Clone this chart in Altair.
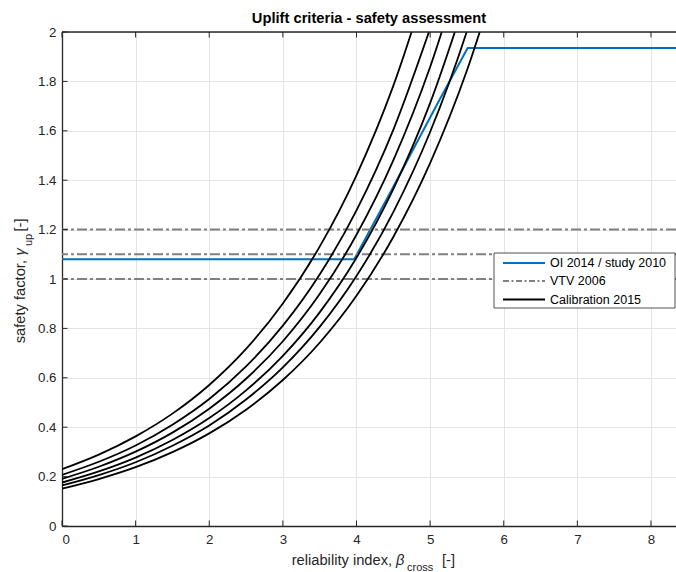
import altair as alt
import pandas as pd

# ---------------- data ----------------
beta_pts = [0, 0.5, 1, 1.5, 2, 2.5, 3, 3.5, 4, 4.5, 5, 5.5, 6]
cal_1 = [0.230, 0.289, 0.363, 0.455, 0.571, 0.717, 0.901, 1.131, 1.420, 1.782, 2.237]
cal_2 = [0.207, 0.260, 0.326, 0.410, 0.514, 0.646, 0.811, 1.018, 1.278, 1.604, 2.014]
cal_3 = [0.191, 0.240, 0.301, 0.378, 0.475, 0.596, 0.748, 0.939, 1.179, 1.480, 1.858, 2.333]
cal_4 = [0.176, 0.221, 0.277, 0.348, 0.437, 0.549, 0.689, 0.865, 1.086, 1.364, 1.712, 2.149]
cal_5 = [0.164, 0.206, 0.258, 0.325, 0.407, 0.512, 0.642, 0.806, 1.012, 1.271, 1.595, 2.003, 2.514]
cal_6 = [0.151, 0.190, 0.238, 0.299, 0.375, 0.471, 0.591, 0.742, 0.932, 1.170, 1.469, 1.844, 2.315]

oi_beta = [0, 3.97, 4.45, 5.13, 5.51, 8.5]
oi_gamma = [1.08, 1.08, 1.345, 1.727, 1.935, 1.935]

vtv_levels = [1.0, 1.1, 1.2]

x_tick_values = [0, 1, 2, 3, 4, 5, 6, 7, 8]
y_tick_values = [0, 0.2, 0.4, 0.6, 0.8, 1, 1.2, 1.4, 1.6, 1.8, 2]

legend_labels = ["OI 2014 / study 2010", "VTV 2006", "Calibration 2015"]

# ---------------- tables ----------------
rows = []
for i, vals in enumerate([cal_1, cal_2, cal_3, cal_4, cal_5, cal_6]):
    for b, g in zip(beta_pts, vals):
        rows.append({"curve": f"c{i+1}", "beta": b, "gamma": g})
df_cal = pd.DataFrame(rows)
df_oi = pd.DataFrame({"beta": oi_beta, "gamma": oi_gamma})
df_vtv = pd.DataFrame({"gamma": vtv_levels})
df_xt = pd.DataFrame({"beta": x_tick_values})
df_yt = pd.DataFrame({"gamma": y_tick_values})

FONT = "Liberation Sans"
AX = "#262626"
W, H = 614, 494

x_axis = alt.Axis(values=x_tick_values, title=None, grid=True, gridColor="#e4e4e4",
                  ticks=False, domainColor=AX, domainWidth=1.3, labelFont=FONT,
                  labelFontSize=13.3, labelColor=AX, labelPadding=6, format="d")
y_axis = alt.Axis(values=y_tick_values, title=None, grid=True, gridColor="#e4e4e4",
                  ticks=False, domainColor=AX, domainWidth=1.3, labelFont=FONT,
                  labelFontSize=13.3, labelColor=AX, labelPadding=6, format="~g")
X = alt.X("beta:Q", scale=alt.Scale(domain=[0, 8.34], nice=False, zero=False), axis=x_axis)
Y = alt.Y("gamma:Q", scale=alt.Scale(domain=[0, 2], nice=False, zero=False), axis=y_axis)

blue = alt.Chart(df_oi).mark_line(color="#0072BD", strokeWidth=2, clip=True).encode(x=X, y=Y)

vtv = alt.Chart(df_vtv).mark_rule(color="#808080", strokeWidth=2,
                                  strokeDash=[10, 3, 3, 3]).encode(y=Y)

cal = alt.Chart(df_cal).mark_line(color="black", strokeWidth=1.8, clip=True,
                                  interpolate="monotone").encode(x=X, y=Y, detail="curve:N")

xt_bottom = alt.Chart(df_xt).mark_rule(color=AX, strokeWidth=1).encode(
    x=X, y=alt.value(H), y2=alt.value(H - 5.5))
xt_top = alt.Chart(df_xt).mark_rule(color=AX, strokeWidth=1).encode(
    x=X, y=alt.value(0), y2=alt.value(5.5))
yt_left = alt.Chart(df_yt).mark_rule(color=AX, strokeWidth=1).encode(
    y=Y, x=alt.value(0), x2=alt.value(5.5))
top_border = alt.Chart(df_xt.head(1)).mark_rule(color=AX, strokeWidth=1.3).encode(
    x=alt.value(0), x2=alt.value(W), y=alt.value(0))

one = alt.Data(values=[{"k": 1}])

def txt(s, x, y, size, **kw):
    return alt.Chart(one).mark_text(text=s, font=FONT, fontSize=size, **kw).encode(
        x=alt.value(x), y=alt.value(y))

# legend
leg_box = alt.Chart(one).mark_rect(fill="white", stroke=AX, strokeWidth=0.8).encode(
    x=alt.value(432), x2=alt.value(613), y=alt.value(221), y2=alt.value(276))
leg_l1 = alt.Chart(one).mark_rule(color="#0072BD", strokeWidth=2).encode(
    x=alt.value(441), x2=alt.value(483), y=alt.value(231))
leg_l2 = alt.Chart(one).mark_rule(color="#808080", strokeWidth=2, strokeDash=[6, 2.5, 2, 2.5]).encode(
    x=alt.value(441), x2=alt.value(483), y=alt.value(249))
leg_l3 = alt.Chart(one).mark_rule(color="black", strokeWidth=2).encode(
    x=alt.value(441), x2=alt.value(483), y=alt.value(267.5))
leg_t = [txt(legend_labels[i], 488, yy, 12.5, align="left", baseline="middle", color="black")
         for i, yy in enumerate([231, 249, 267.5])]

# titles
title = txt("Uplift criteria - safety assessment", W / 2, -9, 14.7, align="center",
            baseline="alphabetic", fontWeight="bold", color="black")
xt1 = txt("reliability index,", 229.7, 533, 14.7, align="left", baseline="alphabetic", color=AX)
xt2 = txt("β", 334, 533, 14.7, align="left", baseline="alphabetic", color=AX, fontStyle="italic")
xt3 = txt("cross", 345, 538.5, 11, align="left", baseline="alphabetic", color=AX)
xt4 = txt("[-]", 380, 533, 14.7, align="left", baseline="alphabetic", color=AX)

yt1 = txt("safety factor,", -37, 311.3, 14.7, align="left", baseline="alphabetic", color=AX, angle=270)
yt2 = txt("γ", -37, 223.5, 14.7, align="left", baseline="alphabetic", color=AX, angle=270,
          fontStyle="italic")
yt3 = txt("up", -30, 214, 11, align="left", baseline="alphabetic", color=AX, angle=270)
yt4 = txt("[-]", -37, 199.5, 14.7, align="left", baseline="alphabetic", color=AX, angle=270)

chart = alt.layer(
    blue, vtv, cal, xt_bottom, xt_top, yt_left, top_border,
    leg_box, leg_l1, leg_l2, leg_l3, *leg_t,
    title, xt1, xt2, xt3, xt4, yt1, yt2, yt3, yt4,
).properties(
    width=W, height=H,
    autosize=alt.AutoSizeParams(type="none"),
    padding={"left": 62, "top": 32, "right": 0, "bottom": 46},
    background="white",
).configure_view(stroke=None)

chart.save("out.html", embed_options={"renderer": "svg", "actions": False})
